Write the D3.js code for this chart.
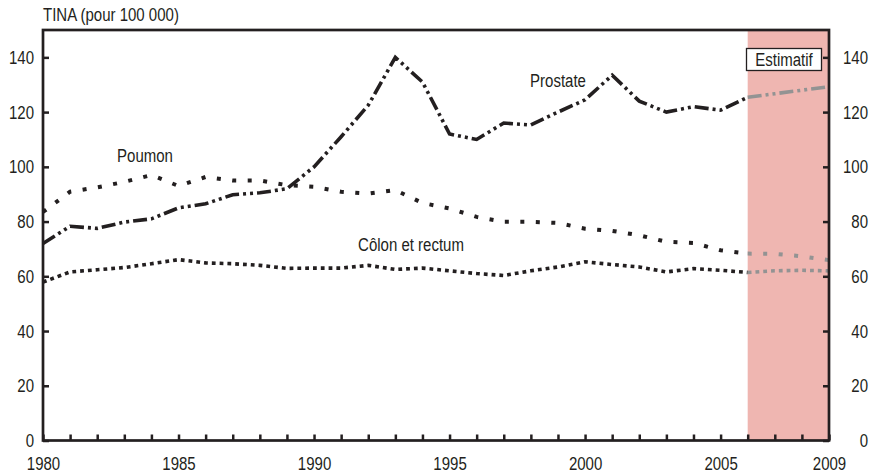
<!DOCTYPE html>
<meta charset="utf-8">
<style>
  body { margin: 0; background: #fff; }
  svg text { font-family: "Liberation Sans", Arial, sans-serif; font-size: 19px; fill: #231f20;
             transform-box: fill-box; transform: scale(0.79, 1); transform-origin: center; }
  svg text.start { transform-origin: left; }
  svg text.end, .axis-y text { transform-origin: right; }
  .axis line { stroke: #231f20; stroke-width: 2.5; }
  .axis path { display: none; }
</style>
<svg width="872" height="475"></svg>

<script src="https://cdn.jsdelivr.net/npm/d3@7"></script>
<script>

/*
 */
var years = d3.range(1980, 2007);
var estYears = [2006, 2007, 2008, 2009];

var prostate = [72, 78.3, 77.5, 79.8, 81, 85, 86.5, 89.8, 90.5, 92, 100, 111, 122.5, 140, 131,
                112, 110, 116, 115.3, 120, 124.5, 133.5, 124, 120, 122, 120.7, 125.4];
var prostateEst = [125.4, 126.7, 128, 129.3];

var poumon = [83.5, 90.9, 92.5, 94.5, 97, 93, 96.3, 95, 95, 93.3, 92.7, 90.9, 90.2, 91.5, 86.8,
              84.8, 81.7, 79.9, 79.9, 79.5, 77.4, 76.6, 75, 72.6, 72.2, 69.5, 68.3];
var poumonEst = [68.3, 68.2, 67.3, 65.9];

var colon = [57.9, 61.6, 62.4, 63.2, 64.6, 66.1, 64.9, 64.6, 64, 62.9, 63, 63, 64, 62.5, 63,
             62, 61, 60.3, 62, 63.4, 65.3, 64.3, 63.4, 61.6, 62.8, 62.2, 61.4];
var colonEst = [61.4, 62, 62.2, 62];

var yTicks = [0, 20, 40, 60, 80, 100, 120, 140];
var xLabels = [1980, 1985, 1990, 1995, 2000, 2005, 2009];

var svg = d3.select("svg"),
    plotLeft = 43, plotRight = 829, plotTop = 30, plotBottom = 440.5;

var x = d3.scaleLinear().domain([1980, 2009]).range([plotLeft, plotRight]);
var y = d3.scaleLinear().domain([0, 150]).range([plotBottom, plotTop]);

/*
 * Shaded estimate zone.
 */
svg.append("rect")
    .attr("x", x(2006))
    .attr("y", plotTop)
    .attr("width", x(2009) - x(2006))
    .attr("height", plotBottom - plotTop)
    .attr("fill", "#efb6b1");

/*
 * Series: observed part in black, estimates in grey.
 */
var series = [
  {values: prostate, est: prostateEst, dash: "14,4,3,4,3,4", width: 3.6},
  {values: poumon, est: poumonEst, dash: "4,11.5", width: 4},
  {values: colon, est: colonEst, dash: "3.8,4", width: 3.6}
];

var line = d3.line()
    .x(function(d) { return x(d[0]); })
    .y(function(d) { return y(d[1]); });

series.forEach(function(s) {
  svg.append("path")
      .attr("d", line(d3.zip(years, s.values)))
      .attr("fill", "none")
      .attr("stroke", "#231f20")
      .attr("stroke-width", s.width)
      .attr("stroke-dasharray", s.dash);
  svg.append("path")
      .attr("d", line(d3.zip(estYears, s.est)))
      .attr("fill", "none")
      .attr("stroke", "#939393")
      .attr("stroke-width", s.width)
      .attr("stroke-dasharray", s.dash);
});

/*
 * Axes with inward ticks.
 */
svg.append("g")
    .attr("class", "axis axis-y")
    .attr("transform", "translate(" + plotLeft + ",0)")
    .call(d3.axisLeft(y).tickValues(yTicks).tickSize(-6).tickPadding(9));

var yr = svg.append("g")
    .attr("class", "axis axis-y")
    .attr("transform", "translate(" + plotRight + ",0)")
    .call(d3.axisRight(y).tickValues(yTicks).tickSize(-6).tickPadding(39));
yr.selectAll("text").attr("text-anchor", "end");

svg.append("g")
    .attr("class", "axis")
    .attr("transform", "translate(0," + plotBottom + ")")
    .call(d3.axisBottom(x)
      .tickValues(d3.range(1980, 2010))
      .tickSize(-6)
      .tickPadding(16)
      .tickFormat(function(d) { return xLabels.indexOf(d) >= 0 ? d : ""; }));

svg.selectAll(".axis text")
    .attr("fill", "#231f20")
    .style("font-size", "19px")
    .style("font-family", "'Liberation Sans', Arial, sans-serif");

/*
 * Frame.
 */
svg.append("rect")
    .attr("x", plotLeft)
    .attr("y", plotTop)
    .attr("width", plotRight - plotLeft)
    .attr("height", plotBottom - plotTop)
    .attr("fill", "none")
    .attr("stroke", "#231f20")
    .attr("stroke-width", 2.7);

/*
 * Labels.
 */
svg.append("text").attr("class", "start").attr("x", plotLeft).attr("y", 21).text("TINA (pour 100 000)");
svg.append("text").attr("x", 145).attr("y", 162).attr("text-anchor", "middle").text("Poumon");
svg.append("text").attr("x", 558).attr("y", 87).attr("text-anchor", "middle").text("Prostate");
svg.append("text").attr("x", 411).attr("y", 251).attr("text-anchor", "middle").text("Côlon et rectum");

svg.append("rect")
    .attr("x", 746.5)
    .attr("y", 48.5)
    .attr("width", 75)
    .attr("height", 22)
    .attr("fill", "#fff")
    .attr("stroke", "#231f20")
    .attr("stroke-width", 1.3);
svg.append("text").attr("x", 784).attr("y", 66).attr("text-anchor", "middle").text("Estimatif");

</script>
